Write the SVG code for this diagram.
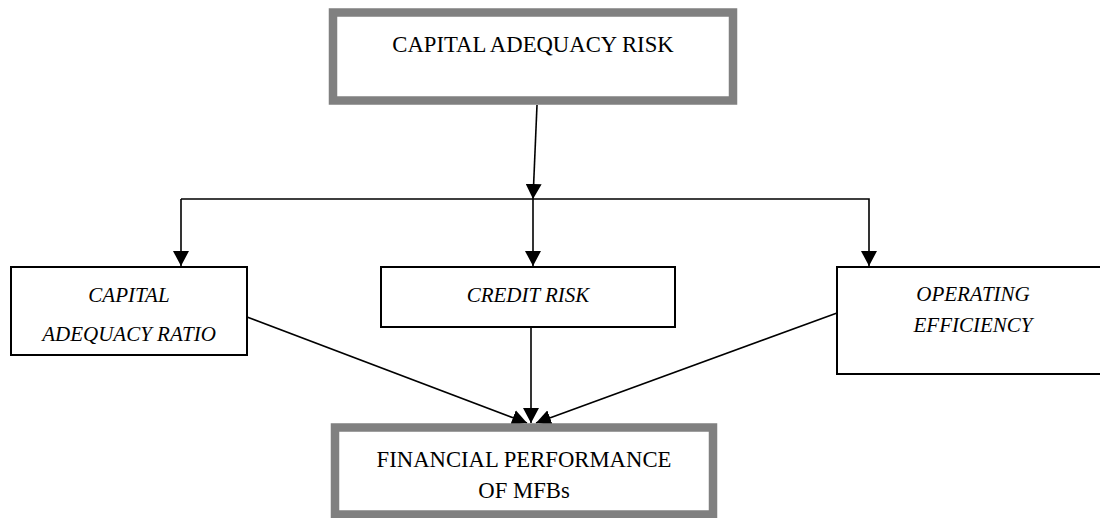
<svg xmlns="http://www.w3.org/2000/svg" width="1100" height="518" viewBox="0 0 1100 518">
<style>
.thick{fill:#fff;stroke:#808080;stroke-width:8.5}
.thin{fill:#fff;stroke:#000;stroke-width:2}
.t{font-family:"Liberation Serif","Times New Roman",serif;font-size:22.7px;fill:#000;text-anchor:middle}
.i{font-style:italic;font-size:21px}
.c{fill:none;stroke:#000;stroke-width:1.6}
</style>
<defs>
<marker id="ah" markerUnits="userSpaceOnUse" markerWidth="16" markerHeight="16" refX="15" refY="8" orient="auto">
<path d="M0,0 L15,8 L0,16 z" fill="#000"/>
</marker>
</defs>
<g id="connectors">
<path class="c" d="M537,105 L533,199" marker-end="url(#ah)"/>
<path class="c" d="M181,199 L869,199 L869,266" marker-end="url(#ah)"/>
<path class="c" d="M181,199 L181,266" marker-end="url(#ah)"/>
<path class="c" d="M533,199 L533,266" marker-end="url(#ah)"/>
<path class="c" d="M247,317 L527,423" marker-end="url(#ah)"/>
<path class="c" d="M531,327 L531,423" marker-end="url(#ah)"/>
<path class="c" d="M837,313 L536,423" marker-end="url(#ah)"/>
</g>
<g id="capital-adequacy-risk">
<rect class="thick" x="333" y="12.5" width="400" height="88"/>
<text class="t" x="533" y="52">CAPITAL ADEQUACY RISK</text>
</g>
<g id="capital-adequacy-ratio">
<rect class="thin" x="11" y="267" width="236" height="88"/>
<text class="t i" x="129" y="302">CAPITAL</text>
<text class="t i" x="129" y="341">ADEQUACY RATIO</text>
</g>
<g id="credit-risk">
<rect class="thin" x="381" y="267" width="294" height="60"/>
<text class="t i" x="528" y="302">CREDIT RISK</text>
</g>
<g id="operating-efficiency">
<rect class="thin" x="837" y="267" width="272" height="107"/>
<text class="t i" x="973" y="301">OPERATING</text>
<text class="t i" x="973" y="332">EFFICIENCY</text>
</g>
<g id="financial-performance">
<rect class="thick" x="335" y="427.5" width="378" height="87"/>
<text class="t" x="524" y="467">FINANCIAL PERFORMANCE</text>
<text class="t" x="524" y="498">OF MFBs</text>
</g>
</svg>
